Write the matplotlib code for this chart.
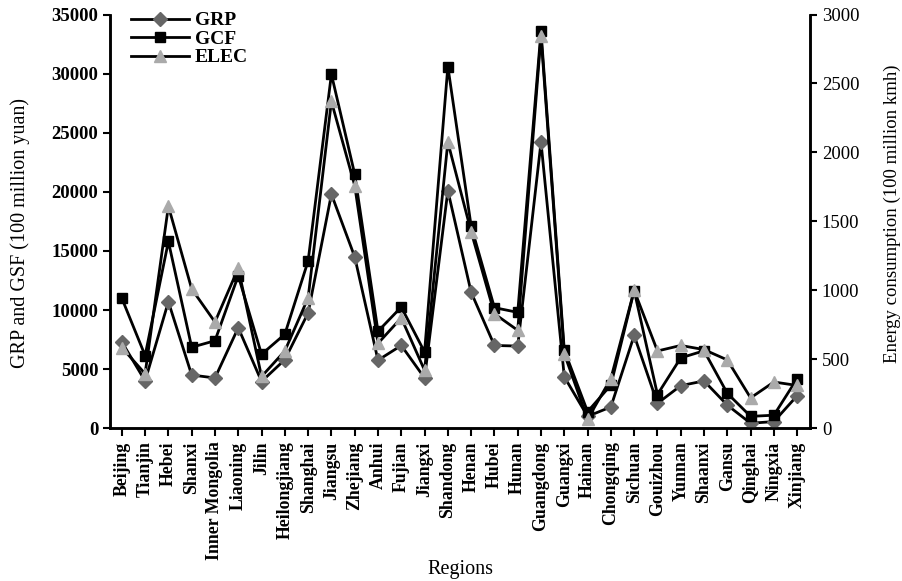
import matplotlib
matplotlib.use('Agg')
import matplotlib.pyplot as plt
import numpy as np

plt.rcParams['font.family'] = ['Liberation Serif', 'DejaVu Serif']

regions = ['Beijing', 'Tianjin', 'Hebei', 'Shanxi', 'Inner Mongolia', 'Liaoning', 'Jilin',
           'Heilongjiang', 'Shanghai', 'Jiangsu', 'Zhejiang', 'Anhui', 'Fujian', 'Jiangxi',
           'Shandong', 'Henan', 'Hubei', 'Hunan', 'Guangdong', 'Guangxi', 'Hainan',
           'Chongqing', 'Sichuan', 'Gouizhou', 'Yunnan', 'Shaanxi', 'Gansu', 'Qinghai',
           'Ningxia', 'Xinjiang']

grp = [7300, 4000, 10700, 4500, 4250, 8500, 3950, 5800, 9750, 19800, 14500, 5750, 7000, 4250,
       20100, 11500, 7000, 6950, 24200, 4350, 1000, 1800, 7850, 2100, 3600, 4000, 1950, 420,
       560, 2750]
gcf = [11000, 6150, 15800, 6850, 7400, 12900, 6250, 7950, 14150, 29950, 21500, 8200, 10250, 6450,
       30600, 17100, 10200, 9800, 33600, 6600, 1400, 3650, 11650, 2850, 5950, 6550, 2950, 1000,
       1100, 4200]
elec = [585, 395, 1610, 1010, 770, 1160, 375, 560, 945, 2370, 1760, 615, 800, 420,
        2075, 1425, 830, 710, 2845, 540, 65, 360, 1000, 560, 600, 570, 495, 220,
        335, 310]

x = np.arange(len(regions))

fig = plt.figure(figsize=(9.03, 5.81), dpi=100)
ax = fig.add_axes([0.122, 0.263, 0.775, 0.712])
ax2 = ax.twinx()

ax.plot(x, grp, color='black', lw=2, marker='D', ms=7, mfc='#666666', mec='#666666', label='GRP', zorder=3)
ax.plot(x, gcf, color='black', lw=2, marker='s', ms=7.5, mfc='black', mec='black', label='GCF', zorder=4)
ax2.plot(x, elec, color='black', lw=2, marker='^', ms=8.5, mfc='#aaaaaa', mec='#aaaaaa', label='ELEC')

ax.set_xlim(-0.5, 29.55)
ax.set_ylim(0, 35000)
ax2.set_ylim(0, 3000)
ax.set_yticks(np.arange(0, 35001, 5000))
ax2.set_yticks(np.arange(0, 3001, 500))
ax.set_xticks(x)
ax.set_xticklabels(regions, rotation=90, fontsize=12.8, fontweight='bold')
for lab in ax.get_yticklabels():
    lab.set_fontweight('bold')
ax.tick_params(axis='y', labelsize=13.5, width=1.5, length=5)
ax2.tick_params(axis='y', labelsize=13.5, width=1.5, length=5)
ax.tick_params(axis='x', width=1.5, length=6)

for a in (ax, ax2):
    a.spines['top'].set_visible(False)
    for s in ('left', 'right', 'bottom'):
        a.spines[s].set_linewidth(1.8)

ax.set_ylabel('GRP and GSF (100 million yuan)', fontsize=14.5)
ax.yaxis.set_label_coords(-0.114, 0.472)
ax2.set_ylabel('Energy consumption (100 million kmh)', fontsize=13.5)
ax2.yaxis.set_label_coords(1.105, 0.518)
ax.set_xlabel('Regions', fontsize=14.5)
ax.xaxis.set_label_coords(0.5, -0.318)

h1, l1 = ax.get_legend_handles_labels()
h2, l2 = ax2.get_legend_handles_labels()
ax2.legend(h1 + h2, l1 + l2, loc='upper left', frameon=False,
           prop={'size': 14, 'weight': 'bold'},
           handlelength=3.0, handletextpad=0.3, labelspacing=0.05,
           borderaxespad=0.2, bbox_to_anchor=(0.013, 1.035))

fig.savefig('out.png', dpi=100)
